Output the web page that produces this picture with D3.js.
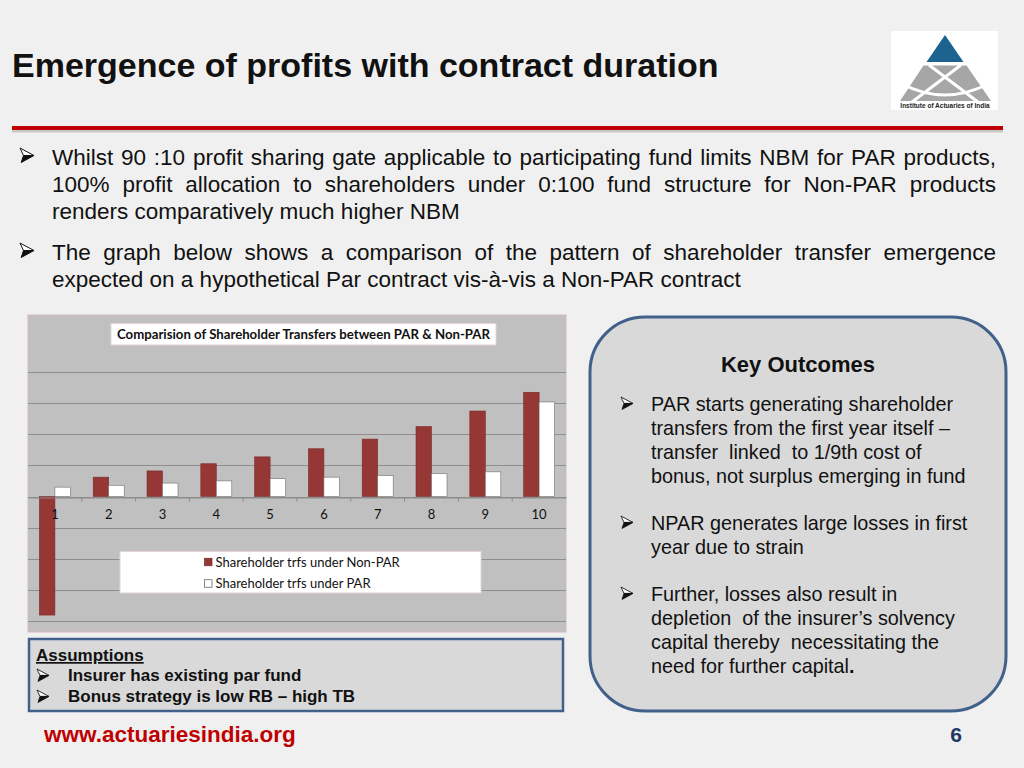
<!DOCTYPE html>
<html>
<head>
<title>Emergence of profits with contract duration</title>
<style>
body { margin: 0; background: #f0f0f0; }
text { font-family: "Liberation Sans", Arial, sans-serif; }
.chart text { font-family: Lato, "Open Sans", sans-serif; }
.grid line { stroke: #8e8e8e; stroke-width: 1.2; shape-rendering: crispEdges; }
.pre { white-space: pre; }
</style>
</head>
<body>
<script src="https://d3js.org/d3.v7.min.js"></script>
<script>
(function() {
    // contract year
    var years = ["1", "2", "3", "4", "5", "6", "7", "8", "9", "10"];
    // shareholder transfers, in gridline units (no y labels on the original)
    var nonPar = [-3.80, 0.62, 0.82, 1.05, 1.27, 1.53, 1.84, 2.24, 2.74, 3.34];
    var par = [0.30, 0.36, 0.43, 0.50, 0.57, 0.62, 0.67, 0.73, 0.79, 3.03];
    var seriesNames = ["Shareholder trfs under Non-PAR", "Shareholder trfs under PAR"];
    var seriesKeys = ["nonPar", "par"];
    var seriesColors = ["#953735", "#ffffff"];
    var gridValues = [-4, -3, -2, -1, 0, 1, 2, 3, 4];

    var chartBox = { left: 28, top: 315, right: 566, bottom: 632 };
    var width = 1024, height = 768;

    var svg = d3.select("body").append("svg")
        .attr("width", width)
        .attr("height", height);

    svg.append("rect")
        .attr("width", width).attr("height", height)
        .attr("fill", "#f0f0f0");

    // ---- header ----
    svg.append("text")
        .attr("x", 12).attr("y", 77)
        .attr("font-size", 34).attr("font-weight", "bold")
        .attr("fill", "#111")
        .text("Emergence of profits with contract duration");

    svg.append("line")
        .attr("x1", 12).attr("x2", 1003).attr("y1", 131).attr("y2", 131)
        .attr("stroke", "#c8c8c8").attr("stroke-width", 3);
    svg.append("line")
        .attr("x1", 12).attr("x2", 1003).attr("y1", 128).attr("y2", 128)
        .attr("stroke", "#c00000").attr("stroke-width", 4);

    // logo
    var logo = svg.append("g").attr("class", "logo");
    logo.append("rect")
        .attr("x", 891).attr("y", 31).attr("width", 107).attr("height", 79)
        .attr("fill", "#ffffff");
    logo.append("path")
        .attr("d", "M945,35 L926.5,62 L963.5,62 Z")
        .attr("fill", "#1c6390");
    logo.append("path")
        .attr("d", "M923.5,65.5 L966.5,65.5 L991,101 L900,101 Z")
        .attr("fill", "#a6a6a6");
    logo.append("path")
        .attr("d", "M929,65 L978,102 M961,65 L912,102 M902,84 Q945,106 988,84")
        .attr("fill", "none").attr("stroke", "#ffffff").attr("stroke-width", 3);
    logo.append("text")
        .attr("x", 945).attr("y", 108)
        .attr("text-anchor", "middle")
        .attr("font-size", 6.5).attr("font-weight", "bold")
        .attr("fill", "#222")
        .text("Institute of Actuaries of India");

    // ---- bullet text helpers ----
    // the "3D arrowhead" bullet, drawn as a shape so it does not depend on a font
    function bullet(x, y, s) {
        var g = svg.append("g")
            .attr("transform", "translate(" + x + "," + y + ") scale(" + s / 14 + ")");
        g.append("path")
            .attr("d", "M0,0 L14,7.5 L3.5,7.5 Z")
            .attr("fill", "#ffffff").attr("stroke", "#111").attr("stroke-width", 1);
        g.append("path")
            .attr("d", "M3.5,7.5 L14,7.5 L1.2,14.5 Z")
            .attr("fill", "#111").attr("stroke", "#111").attr("stroke-width", 1);
    }

    function lines(list, x, y0, lh, size, weight, justify) {
        list.forEach(function(l, i) {
            var t = svg.append("text")
                .attr("class", "pre")
                .attr("x", x).attr("y", y0 + i * lh)
                .attr("font-size", size)
                .attr("font-weight", weight || "normal")
                .attr("fill", "#111")
                .text(l);
            if (justify && i < list.length - 1) {
                var len = t.node().getComputedTextLength();
                var n = l.split(" ").length - 1;
                if (n > 0) t.attr("word-spacing", (justify.width - len) / n);
            }
        });
    }

    bullet(20, 148, 14);
    lines([
        "Whilst 90 :10 profit sharing gate applicable to participating fund limits NBM for PAR products,",
        "100% profit allocation to shareholders under 0:100 fund structure for Non-PAR products",
        "renders comparatively much higher NBM"
    ], 52, 165, 27, 22.5, "normal", { width: 944 });

    bullet(20, 243, 14);
    lines([
        "The graph below shows a comparison of the pattern of shareholder transfer emergence",
        "expected on a hypothetical Par contract vis-\u00e0-vis a Non-PAR contract"
    ], 52, 260, 27, 22.5, "normal", { width: 944 });

    // ---- chart ----
    var chart = svg.append("g").attr("class", "chart");
    chart.append("rect")
        .attr("x", chartBox.left).attr("y", chartBox.top)
        .attr("width", chartBox.right - chartBox.left)
        .attr("height", chartBox.bottom - chartBox.top)
        .attr("fill", "#c0c0c0")
        .attr("stroke", "#d2b9c1").attr("stroke-width", 1);

    var x = d3.scaleBand()
        .domain(years)
        .range([chartBox.left, chartBox.right])
        .paddingInner(0.424)
        .paddingOuter(0.212);
    var xs = d3.scaleBand()
        .domain(seriesKeys)
        .range([0, x.bandwidth()]);
    var y = d3.scaleLinear()
        .domain([-4, 4])
        .range([621.3, 371.7]);

    chart.append("g").attr("class", "grid")
        .selectAll("line")
        .data(gridValues)
        .enter().append("line")
        .attr("x1", chartBox.left).attr("x2", chartBox.right)
        .attr("y1", function(d) { return Math.round(y(d)) + 0.5; })
        .attr("y2", function(d) { return Math.round(y(d)) + 0.5; });

    var rows = years.map(function(yr, i) {
        return { year: yr, nonPar: nonPar[i], par: par[i] };
    });

    var groups = chart.append("g").attr("class", "bars")
        .selectAll("g")
        .data(rows)
        .enter().append("g")
        .attr("transform", function(d) { return "translate(" + x(d.year) + ",0)"; });
    groups.selectAll("rect")
        .data(function(d) { return seriesKeys.map(function(k) { return { key: k, value: d[k] }; }); })
        .enter().append("rect")
        .attr("x", function(d) { return xs(d.key); })
        .attr("width", xs.bandwidth())
        .attr("y", function(d) { return y(Math.max(0, d.value)); })
        .attr("height", function(d) { return Math.abs(y(d.value) - y(0)); })
        .attr("fill", function(d) { return seriesColors[seriesKeys.indexOf(d.key)]; })
        .attr("stroke", function(d) { return d.key === "par" ? "#6f6f6f" : "#7a2c2a"; })
        .attr("stroke-width", 0.6);

    // category axis on the zero line
    var xaxis = d3.axisBottom(x).tickSize(0).tickPadding(12);
    var gx = chart.append("g")
        .attr("transform", "translate(0," + (Math.round(y(0)) + 0.5) + ")")
        .call(xaxis);
    gx.select(".domain").attr("stroke", "#8a8a8a").attr("stroke-width", 1.2);
    gx.selectAll(".tick text").attr("font-size", 13).attr("fill", "#111")
        .attr("font-family", "Lato, sans-serif");
    gx.selectAll("line.sep")
        .data(years.slice(1))
        .enter().append("line")
        .attr("class", "sep")
        .attr("x1", function(d) { return x(d) - x.step() * x.paddingInner() / 2; })
        .attr("x2", function(d) { return x(d) - x.step() * x.paddingInner() / 2; })
        .attr("y1", 0).attr("y2", 4)
        .attr("stroke", "#8a8a8a");

    // chart title
    chart.append("rect")
        .attr("x", 111).attr("y", 323.5).attr("width", 385).attr("height", 21.5)
        .attr("fill", "#ffffff").attr("stroke", "#e3d3d8");
    chart.append("text")
        .attr("x", 303.5).attr("y", 339)
        .attr("text-anchor", "middle")
        .attr("font-size", 13.2).attr("font-weight", "bold")
        .attr("fill", "#111")
        .text("Comparision of Shareholder Transfers between PAR & Non-PAR");

    // legend
    chart.append("rect")
        .attr("x", 120).attr("y", 551.5).attr("width", 361).attr("height", 41.5)
        .attr("fill", "#ffffff").attr("stroke", "#e3d3d8");
    var leg = chart.append("g").selectAll("g")
        .data(seriesNames)
        .enter().append("g")
        .attr("transform", function(d, i) { return "translate(204.5," + (562 + i * 21.5) + ")"; });
    leg.append("rect")
        .attr("x", 0).attr("y", -3.75).attr("width", 7.5).attr("height", 7.5)
        .attr("fill", function(d, i) { return seriesColors[i]; })
        .attr("stroke", function(d, i) { return i ? "#555" : "#7a2c2a"; })
        .attr("stroke-width", 0.7);
    leg.append("text")
        .attr("x", 11).attr("y", 4.5)
        .attr("font-size", 13)
        .attr("fill", "#111")
        .text(function(d) { return d; });

    // ---- assumptions box ----
    svg.append("rect")
        .attr("x", 29).attr("y", 639).attr("width", 534).attr("height", 72)
        .attr("fill", "#d9d9d9")
        .attr("stroke", "#41618a").attr("stroke-width", 2.5);
    svg.append("text")
        .attr("x", 36).attr("y", 661)
        .attr("font-size", 17).attr("font-weight", "bold")
        .attr("text-decoration", "underline")
        .attr("fill", "#111")
        .text("Assumptions");
    bullet(37, 669, 12);
    bullet(37, 690, 12);
    lines([
        "Insurer has existing par fund",
        "Bonus strategy is low RB \u2013 high TB"
    ], 68, 681, 21, 17, "bold");

    // ---- key outcomes box ----
    svg.append("rect")
        .attr("x", 590).attr("y", 317).attr("width", 416).attr("height", 394)
        .attr("rx", 55).attr("ry", 55)
        .attr("fill", "#d9d9d9")
        .attr("stroke", "#41618a").attr("stroke-width", 3);
    svg.append("text")
        .attr("x", 798).attr("y", 372)
        .attr("text-anchor", "middle")
        .attr("font-size", 22).attr("font-weight", "bold")
        .attr("fill", "#111")
        .text("Key Outcomes");

    bullet(621, 397, 12);
    lines([
        "PAR starts generating shareholder",
        "transfers from the first year itself \u2013",
        "transfer  linked  to 1/9th cost of",
        "bonus, not surplus emerging in fund"
    ], 651, 411, 24, 19.8);
    bullet(621, 516, 12);
    lines([
        "NPAR generates large losses in first",
        "year due to strain"
    ], 651, 530, 24, 19.8);
    bullet(621, 587, 12);
    lines([
        "Further, losses also result in",
        "depletion  of the insurer\u2019s solvency",
        "capital thereby  necessitating the"
    ], 651, 601, 24, 19.8);
    var lastLine = svg.append("text")
        .attr("x", 651).attr("y", 673)
        .attr("font-size", 19.8)
        .attr("fill", "#111");
    lastLine.append("tspan").text("need for further capital");
    lastLine.append("tspan").attr("font-weight", "bold").text(".");

    // ---- footer ----
    svg.append("text")
        .attr("x", 44).attr("y", 742)
        .attr("font-size", 22.5).attr("font-weight", "bold")
        .attr("fill", "#c00000")
        .text("www.actuariesindia.org");
    svg.append("text")
        .attr("x", 956).attr("y", 742)
        .attr("text-anchor", "middle")
        .attr("font-size", 21).attr("font-weight", "bold")
        .attr("fill", "#1f3864")
        .text("6");
})();
</script>
</body>
</html>
